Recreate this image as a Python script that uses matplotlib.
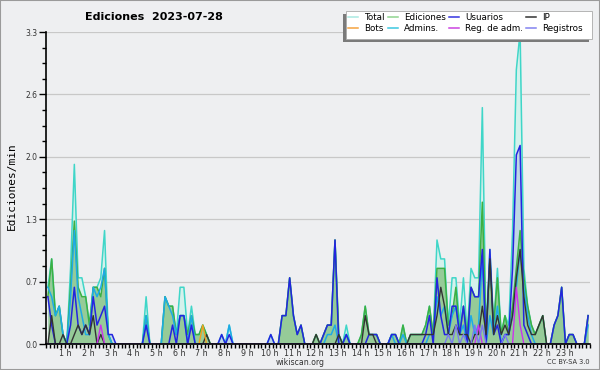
import numpy as np
import matplotlib.pyplot as plt
import matplotlib.transforms as mtransforms
from matplotlib.lines import Line2D
from matplotlib.patches import Rectangle

# edits per minute, one value per 10-minute bin (6 per hour)
total = [
    0.6, 0.9, 0.3, 0.4, 0.1, 0.0,
    0.8, 1.9, 0.7, 0.7, 0.5, 0.2,
    0.6, 0.6, 0.7, 1.2, 0.1, 0.0,
    0.0, 0.0, 0.0, 0.0, 0.0, 0.0,
    0.0, 0.0, 0.5, 0.0, 0.0, 0.0,
    0.0, 0.5, 0.4, 0.4, 0.1, 0.6,
    0.6, 0.1, 0.4, 0.1, 0.1, 0.2,
    0.1, 0.0, 0.0, 0.0, 0.1, 0.0,
    0.2, 0.0, 0.0, 0.0, 0.0, 0.0,
    0.0, 0.0, 0.0, 0.0, 0.0, 0.1,
    0.0, 0.0, 0.3, 0.3, 0.7, 0.3,
    0.1, 0.2, 0.0, 0.0, 0.0, 0.1,
    0.0, 0.1, 0.2, 0.2, 1.1, 0.1,
    0.0, 0.2, 0.0, 0.0, 0.0, 0.1,
    0.4, 0.1, 0.1, 0.1, 0.0, 0.0,
    0.0, 0.1, 0.1, 0.0, 0.2, 0.0,
    0.1, 0.1, 0.1, 0.1, 0.2, 0.4,
    0.1, 1.1, 0.9, 0.9, 0.2, 0.7,
    0.7, 0.2, 0.7, 0.1, 0.8, 0.7,
    0.7, 2.5, 0.1, 1.0, 0.2, 0.8,
    0.1, 0.3, 0.2, 1.2, 2.9, 3.3,
    0.8, 0.4, 0.2, 0.1, 0.2, 0.3,
    0.0, 0.0, 0.2, 0.3, 0.6, 0.0,
    0.1, 0.1, 0.0, 0.0, 0.0, 0.3,
]
ediciones = [
    0.5, 0.9, 0.3, 0.4, 0.1, 0.0,
    0.6, 1.3, 0.6, 0.5, 0.5, 0.2,
    0.6, 0.6, 0.5, 0.8, 0.1, 0.0,
    0.0, 0.0, 0.0, 0.0, 0.0, 0.0,
    0.0, 0.0, 0.3, 0.0, 0.0, 0.0,
    0.0, 0.5, 0.4, 0.4, 0.1, 0.3,
    0.3, 0.1, 0.3, 0.1, 0.1, 0.2,
    0.1, 0.0, 0.0, 0.0, 0.0, 0.0,
    0.0, 0.0, 0.0, 0.0, 0.0, 0.0,
    0.0, 0.0, 0.0, 0.0, 0.0, 0.0,
    0.0, 0.0, 0.3, 0.3, 0.7, 0.3,
    0.1, 0.2, 0.0, 0.0, 0.0, 0.1,
    0.0, 0.1, 0.2, 0.2, 1.1, 0.1,
    0.0, 0.1, 0.0, 0.0, 0.0, 0.1,
    0.4, 0.1, 0.1, 0.1, 0.0, 0.0,
    0.0, 0.1, 0.1, 0.0, 0.2, 0.0,
    0.1, 0.1, 0.1, 0.1, 0.2, 0.4,
    0.1, 0.8, 0.8, 0.8, 0.2, 0.3,
    0.6, 0.1, 0.4, 0.1, 0.6, 0.5,
    0.5, 1.5, 0.1, 0.9, 0.2, 0.7,
    0.1, 0.3, 0.1, 0.4, 0.8, 1.2,
    0.7, 0.4, 0.2, 0.1, 0.2, 0.3,
    0.0, 0.0, 0.2, 0.3, 0.6, 0.0,
    0.1, 0.1, 0.0, 0.0, 0.0, 0.3,
]
usuarios = [
    0.5, 0.2, 0.0, 0.0, 0.0, 0.0,
    0.2, 0.6, 0.2, 0.1, 0.2, 0.1,
    0.5, 0.2, 0.3, 0.4, 0.1, 0.1,
    0.0, 0.0, 0.0, 0.0, 0.0, 0.0,
    0.0, 0.0, 0.2, 0.0, 0.0, 0.0,
    0.0, 0.0, 0.0, 0.2, 0.0, 0.3,
    0.3, 0.0, 0.2, 0.0, 0.0, 0.0,
    0.0, 0.0, 0.0, 0.0, 0.1, 0.0,
    0.1, 0.0, 0.0, 0.0, 0.0, 0.0,
    0.0, 0.0, 0.0, 0.0, 0.0, 0.1,
    0.0, 0.0, 0.3, 0.3, 0.7, 0.3,
    0.1, 0.2, 0.0, 0.0, 0.0, 0.0,
    0.0, 0.1, 0.2, 0.2, 1.1, 0.0,
    0.0, 0.1, 0.0, 0.0, 0.0, 0.0,
    0.0, 0.1, 0.1, 0.1, 0.0, 0.0,
    0.0, 0.1, 0.1, 0.0, 0.0, 0.0,
    0.0, 0.0, 0.0, 0.0, 0.1, 0.3,
    0.0, 0.7, 0.3, 0.1, 0.1, 0.4,
    0.4, 0.1, 0.4, 0.0, 0.6, 0.5,
    0.5, 1.0, 0.0, 1.0, 0.1, 0.2,
    0.0, 0.1, 0.1, 0.8, 2.0, 2.1,
    0.2, 0.1, 0.0, 0.0, 0.0, 0.0,
    0.0, 0.0, 0.2, 0.3, 0.6, 0.0,
    0.1, 0.1, 0.0, 0.0, 0.0, 0.3,
]
ip = [
    0.0, 0.3, 0.0, 0.0, 0.1, 0.0,
    0.0, 0.1, 0.2, 0.1, 0.2, 0.1,
    0.3, 0.0, 0.1, 0.0, 0.0, 0.0,
    0.0, 0.0, 0.0, 0.0, 0.0, 0.0,
    0.0, 0.0, 0.0, 0.0, 0.0, 0.0,
    0.0, 0.0, 0.0, 0.0, 0.0, 0.0,
    0.0, 0.0, 0.0, 0.0, 0.0, 0.0,
    0.1, 0.0, 0.0, 0.0, 0.0, 0.0,
    0.0, 0.0, 0.0, 0.0, 0.0, 0.0,
    0.0, 0.0, 0.0, 0.0, 0.0, 0.0,
    0.0, 0.0, 0.0, 0.0, 0.0, 0.0,
    0.0, 0.0, 0.0, 0.0, 0.0, 0.1,
    0.0, 0.0, 0.0, 0.0, 0.0, 0.1,
    0.0, 0.0, 0.0, 0.0, 0.0, 0.0,
    0.3, 0.1, 0.1, 0.0, 0.0, 0.0,
    0.0, 0.0, 0.0, 0.0, 0.0, 0.0,
    0.1, 0.1, 0.1, 0.1, 0.1, 0.1,
    0.1, 0.3, 0.6, 0.4, 0.1, 0.1,
    0.2, 0.1, 0.1, 0.1, 0.0, 0.1,
    0.1, 0.4, 0.1, 0.9, 0.1, 0.3,
    0.1, 0.2, 0.1, 0.3, 0.7, 1.0,
    0.5, 0.2, 0.1, 0.1, 0.2, 0.3,
    0.0, 0.0, 0.0, 0.0, 0.0, 0.0,
    0.0, 0.0, 0.0, 0.0, 0.0, 0.0,
]
admins = [
    0.6, 0.5, 0.3, 0.4, 0.1, 0.0,
    0.5, 1.2, 0.5, 0.3, 0.1, 0.1,
    0.6, 0.5, 0.6, 0.8, 0.1, 0.0,
    0.0, 0.0, 0.0, 0.0, 0.0, 0.0,
    0.0, 0.0, 0.3, 0.0, 0.0, 0.0,
    0.0, 0.5, 0.4, 0.3, 0.1, 0.3,
    0.3, 0.0, 0.3, 0.0, 0.0, 0.0,
    0.0, 0.0, 0.0, 0.0, 0.0, 0.0,
    0.2, 0.0, 0.0, 0.0, 0.0, 0.0,
    0.0, 0.0, 0.0, 0.0, 0.0, 0.0,
    0.0, 0.0, 0.0, 0.0, 0.0, 0.0,
    0.0, 0.0, 0.0, 0.0, 0.0, 0.0,
    0.0, 0.0, 0.1, 0.1, 0.2, 0.0,
    0.0, 0.1, 0.0, 0.0, 0.0, 0.0,
    0.0, 0.0, 0.0, 0.0, 0.0, 0.0,
    0.0, 0.1, 0.0, 0.0, 0.1, 0.0,
    0.0, 0.0, 0.0, 0.0, 0.0, 0.1,
    0.1, 0.5, 0.3, 0.4, 0.1, 0.3,
    0.4, 0.1, 0.2, 0.0, 0.3, 0.1,
    0.2, 0.9, 0.0, 0.3, 0.1, 0.4,
    0.0, 0.1, 0.1, 0.3, 0.6, 1.0,
    0.6, 0.3, 0.1, 0.0, 0.0, 0.0,
    0.0, 0.0, 0.0, 0.0, 0.0, 0.0,
    0.0, 0.0, 0.0, 0.0, 0.0, 0.2,
]
bots = [0.0] * 41 + [0.2] + [0.0] * 102
reg_adm = [
    0.0, 0.0, 0.0, 0.0, 0.0, 0.0,
    0.0, 0.0, 0.0, 0.0, 0.0, 0.0,
    0.0, 0.0, 0.2, 0.0, 0.0, 0.0,
] + [0.0] * 96 + [
    0.2, 0.0, 0.0, 0.0, 0.0, 0.0,
    0.0, 0.0, 0.0, 0.0, 0.6, 0.2,
    0.0, 0.0, 0.0, 0.0, 0.0, 0.0,
    0.0, 0.0, 0.0, 0.0, 0.0, 0.0,
    0.0, 0.0, 0.0, 0.0, 0.0, 0.0,
]
registros = [0.0] * 102 + [
    0.0, 0.0, 0.0, 0.0, 0.1, 0.0,
    0.2, 0.0, 0.1, 0.0, 0.0, 0.2,
    0.0, 0.2, 0.0, 0.0, 0.0, 0.0,
    0.0, 0.1, 0.0, 0.0, 0.0, 0.0,
    0.0, 0.0, 0.0, 0.0, 0.0, 0.0,
    0.0, 0.0, 0.0, 0.0, 0.0, 0.0,
    0.0, 0.0, 0.0, 0.0, 0.0, 0.0,
]

hour_labels = [f"{h} h" for h in range(1, 24)]
legend_labels = ["Total", "Bots", "Ediciones", "Admins.", "Usuarios",
                 "Reg. de adm.", "IP", "Registros"]
legend_colors = ["#a9e9e1", "#f5a340", "#8fd48f", "#3cc8e0", "#3434e0",
                 "#cc44e0", "#333333", "#8282f0"]

bg = "#eeeff1"
x = (np.arange(144) + 0.5) / 6

fig = plt.figure(figsize=(6, 3.7), dpi=100, facecolor=bg)
ax = fig.add_axes([46 / 600, 1 - 344 / 370, 544 / 600, 312 / 370])
ax.set_facecolor(bg)

ax.fill_between(x, total, color="#d5f1ec", lw=0, zorder=1)
ax.fill_between(x, usuarios, color="#bfd8e4", lw=0, zorder=2)
ax.fill_between(x, ediciones, color="#96cb98", lw=0, zorder=3)

ax.plot(x, total, color="#3fd6c8", lw=1.1, zorder=4)
ax.plot(x, ediciones, color="#3cb043", lw=1.1, zorder=5)
ax.plot(x, admins, color="#1eaae6", lw=1.1, zorder=6)
ax.plot(x, usuarios, color="#2424e0", lw=1.1, zorder=7)
ax.plot(x, ip, color="#333333", lw=1.0, zorder=8)
ax.plot(x, bots, color="#f0a020", lw=1.0, zorder=9)
ax.plot(x, reg_adm, color="#cc33ee", lw=1.0, zorder=9)
ax.plot(x, registros, color="#7a7af0", lw=1.0, zorder=9)

ax.set_xlim(0, 24)
ax.set_ylim(0, 3.3)

yt = np.arange(6) * 0.66
ax.set_yticks(yt)
ax.set_yticklabels([f"{v:.1f}" for v in yt])
ax.set_yticks(np.arange(21) * 0.165, minor=True)
ax.set_xticks(np.arange(1, 24))
ax.set_xticklabels(hour_labels)
ax.set_xticks(np.arange(145) / 6, minor=True)

ax.tick_params(axis="y", which="major", length=5, width=1, labelsize=5.5,
               pad=1, labelcolor="#333333")
ax.tick_params(axis="y", which="minor", length=3, width=1)
ax.tick_params(axis="x", which="major", length=3, width=1, labelsize=5.8,
               pad=0.3, labelcolor="#333333")
ax.tick_params(axis="x", which="minor", length=3, width=1)
shift = mtransforms.ScaledTranslation(-3 / 100, 0, fig.dpi_scale_trans)
for lab in ax.get_xticklabels():
    lab.set_transform(lab.get_transform() + shift)

ax.grid(axis="y", color="#c8c8c8", lw=0.9)
ax.set_axisbelow(True)
for s in ["top", "right"]:
    ax.spines[s].set_visible(False)
for s in ["left", "bottom"]:
    ax.spines[s].set_linewidth(1.2)
    ax.spines[s].set_zorder(20)

fig.text(154 / 600, 1 - 17 / 370, "Ediciones  2023-07-28", ha="center",
         va="center", fontsize=8, fontweight="bold")
fig.text(12 / 600, 1 - 186 / 370, "Ediciones/min", rotation=90,
         family="DejaVu Sans Mono", fontsize=8, ha="center", va="center")
fig.text(0.5, 1 - 362.5 / 370, "wikiscan.org", ha="center", va="center",
         fontsize=5.6, color="#333333")
fig.text(590 / 600, 1 - 362.5 / 370, "CC BY-SA 3.0", ha="right", va="center",
         fontsize=4.8, color="#333333")

# legend box with shadow
fig.patches.append(Rectangle((343 / 600, 1 - 42 / 370), 246 / 600, 28 / 370,
                             transform=fig.transFigure, facecolor="#7a7a7a",
                             edgecolor="none", zorder=30))
fig.patches.append(Rectangle((346 / 600, 1 - 39 / 370), 246 / 600, 28 / 370,
                             transform=fig.transFigure, facecolor="white",
                             edgecolor="#aaaaaa", lw=0.6, zorder=31))
handles = [Line2D([], [], color=c, lw=1.1) for c in legend_colors]
leg = fig.legend(handles, legend_labels, ncol=4, loc="upper left",
                 bbox_to_anchor=(348 / 600, 1 - 13.5 / 370), frameon=False,
                 fontsize=6.3, handlelength=1.15, handletextpad=0.7,
                 columnspacing=0.35, labelspacing=0.2, borderpad=0,
                 borderaxespad=0)
leg.set_zorder(32)

fig.patches.append(Rectangle((0, 0), 1, 1, transform=fig.transFigure,
                             facecolor="none", edgecolor="#9a9a9a", lw=1.5,
                             zorder=40))

fig.savefig("out.png", dpi=100, facecolor=bg)
